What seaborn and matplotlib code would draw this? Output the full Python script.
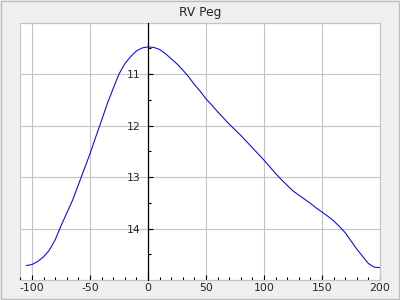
import numpy as np
import pandas as pd
import matplotlib
matplotlib.use("Agg")
import matplotlib.pyplot as plt
from matplotlib.ticker import MultipleLocator, FixedLocator
from matplotlib.patches import Rectangle
import seaborn as sns

# Data (phase in days vs. magnitude)
phase = [-105, -100, -95, -90, -85, -80, -75, -70, -65, -60, -55, -50, -45, -40,
         -35, -30, -25, -20, -15, -10, -5, 0, 5, 10, 15, 20, 25, 30, 35, 40, 45,
         50, 55, 60, 65, 70, 75, 80, 85, 90, 95, 100, 105, 110, 115, 120, 125,
         130, 135, 140, 145, 150, 155, 160, 165, 170, 175, 180, 185, 190, 195, 200]
magnitude = [14.72, 14.70, 14.64, 14.55, 14.42, 14.22, 13.95, 13.70, 13.45, 13.15,
             12.85, 12.55, 12.22, 11.90, 11.57, 11.28, 11.00, 10.80, 10.66, 10.55,
             10.49, 10.47, 10.48, 10.52, 10.60, 10.70, 10.80, 10.92, 11.05, 11.20,
             11.33, 11.48, 11.60, 11.73, 11.85, 11.97, 12.08, 12.19, 12.31, 12.43,
             12.55, 12.67, 12.80, 12.93, 13.05, 13.16, 13.27, 13.35, 13.43, 13.51,
             13.60, 13.68, 13.76, 13.85, 13.96, 14.08, 14.24, 14.40, 14.54, 14.68,
             14.75, 14.76]
title = "RV Peg"
x_ticks = [-100, -50, 0, 50, 100, 150, 200]
y_ticks = [11, 12, 13, 14]

sns.set_style("white")
plt.rcParams['font.family'] = ['DejaVu Sans']

df = pd.DataFrame({"phase": phase, "mag": magnitude})

fig = plt.figure(figsize=(4, 3), dpi=100, facecolor="#efefef")
fig.patches.append(Rectangle((0.0015, 0.002), 0.996, 0.995, transform=fig.transFigure,
                             fill=False, edgecolor="#bdbdbd", linewidth=1.0))
ax = fig.add_axes([0.05, 0.0667, 0.90, 0.8576])
ax.set_facecolor("white")

sns.lineplot(data=df, x="phase", y="mag", ax=ax, color="#0000ff", linewidth=0.75,
             sort=False)

ax.set_xlim(-110.3, 200)
ax.set_ylim(15.0, 10.0)

ax.xaxis.set_major_locator(FixedLocator(x_ticks))
ax.xaxis.set_minor_locator(MultipleLocator(10))
ax.yaxis.set_major_locator(FixedLocator(y_ticks))
ax.yaxis.set_minor_locator(FixedLocator([10.5, 11.5, 12.5, 13.5, 14.5]))
ax.set_xticklabels([str(v) for v in x_ticks])
ax.set_yticklabels([str(v) for v in y_ticks])

ax.grid(True, which="major", color="#c4c4c4", linewidth=0.8)
ax.set_axisbelow(True)

for s in ["top", "right", "bottom"]:
    ax.spines[s].set_color("#c4c4c4")
    ax.spines[s].set_linewidth(0.8)
ax.spines["left"].set_position(("data", 0))
ax.spines["left"].set_color("black")
ax.spines["left"].set_linewidth(0.9)
ax.spines["left"].set_zorder(3)
ax.add_patch(Rectangle((0, 0), 1, 1, transform=ax.transAxes, fill=False,
                       edgecolor="#c4c4c4", linewidth=0.8, zorder=0.5))

ax.tick_params(axis="x", which="major", direction="in", length=3.3, width=0.8,
               color="black", labelsize=7.8, pad=2.5, bottom=True)
ax.tick_params(axis="x", which="minor", direction="in", length=2.3, width=0.8,
               color="black", bottom=True)
ax.tick_params(axis="y", which="major", direction="in", length=3.6, width=0.8,
               color="black", labelsize=7.8, pad=5.5, left=True)
ax.tick_params(axis="y", which="minor", direction="in", length=2.2, width=0.8,
               color="black", left=True)

ax.set_xlabel("")
ax.set_ylabel("")
ax.set_title(title, fontsize=8.8, pad=5)

fig.savefig("out.png", dpi=100, facecolor=fig.get_facecolor())
